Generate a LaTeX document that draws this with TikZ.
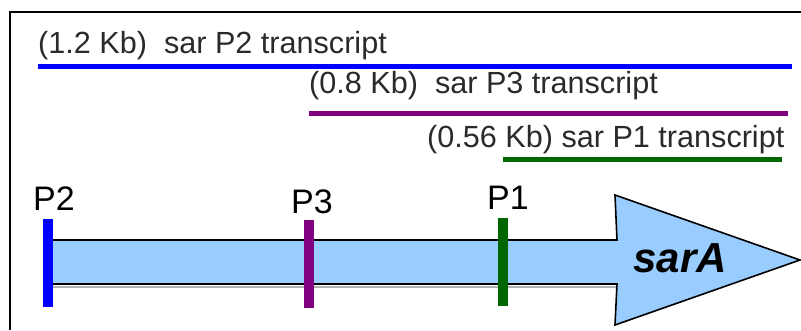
\documentclass[tikz,border=0pt]{standalone}
\usepackage{fontspec}
\setmainfont{Liberation Sans}
\definecolor{txt}{HTML}{2A2A2A}
\definecolor{geneblue}{HTML}{99CCFF}
\definecolor{ptwo}{HTML}{0000FF}
\definecolor{pthree}{HTML}{800080}
\definecolor{pone}{HTML}{006600}
\begin{document}
\begin{tikzpicture}[x=1pt,y=-1pt,
  trlabel/.style={anchor=base west,inner sep=0pt,text=txt,font=\fontsize{30.6}{36}\selectfont},
  trline/.style={line width=5pt},
  promoter/.style={draw=none,minimum width=10pt,minimum height=88pt,inner sep=0pt},
  plabel/.style={anchor=base,inner sep=0pt,text=black,font=\fontsize{34}{40}\selectfont}]
\useasboundingbox (0,0) rectangle (801,330);
% frame
\draw[line width=2pt] (10,330) -- (10,12) -- (801,12);
% transcripts
\node[trlabel] (t2) at (38,53) {(1.2 Kb)\ \ sar P2 transcript};
\coordinate (a2) at (38,66); \coordinate (b2) at (792,66);
\draw[trline,ptwo] (a2) -- (b2);
\node[trlabel] (t3) at (309,93) {(0.8 Kb)\ \ sar P3 transcript};
\coordinate (a3) at (309,113); \coordinate (b3) at (788,113);
\draw[trline,pthree] (a3) -- (b3);
\node[trlabel] (t1) at (427,147) {(0.56 Kb) sar P1 transcript};
\coordinate (a1) at (503,159); \coordinate (b1) at (782,159);
\draw[trline,pone] (a1) -- (b1);
% shaft shadow
\draw[black!30,line width=2.5pt] (48,287) -- (617,287);
% gene arrow
\draw[fill=geneblue,line width=1.6pt,line join=miter] (48,240) -- (617,240) -- (615,195) -- (800,260) -- (615,325) -- (617,284) -- (48,284) -- cycle;
\node[inner sep=0pt,anchor=base,font=\fontsize{42}{48}\selectfont\bfseries\itshape] (sara) at (680,272) {sarA};
% promoters
\node[promoter,fill=ptwo] (p2) at (48,263) {};
\node[promoter,fill=pthree] (p3) at (309,264) {};
\node[promoter,fill=pone] (p1) at (503,261.5) {};
\node[plabel] (l2) at (54,210) {P2};
\node[plabel] (l3) at (312,213) {P3};
\node[plabel] (l1) at (508,209) {P1};
\end{tikzpicture}
\end{document}
